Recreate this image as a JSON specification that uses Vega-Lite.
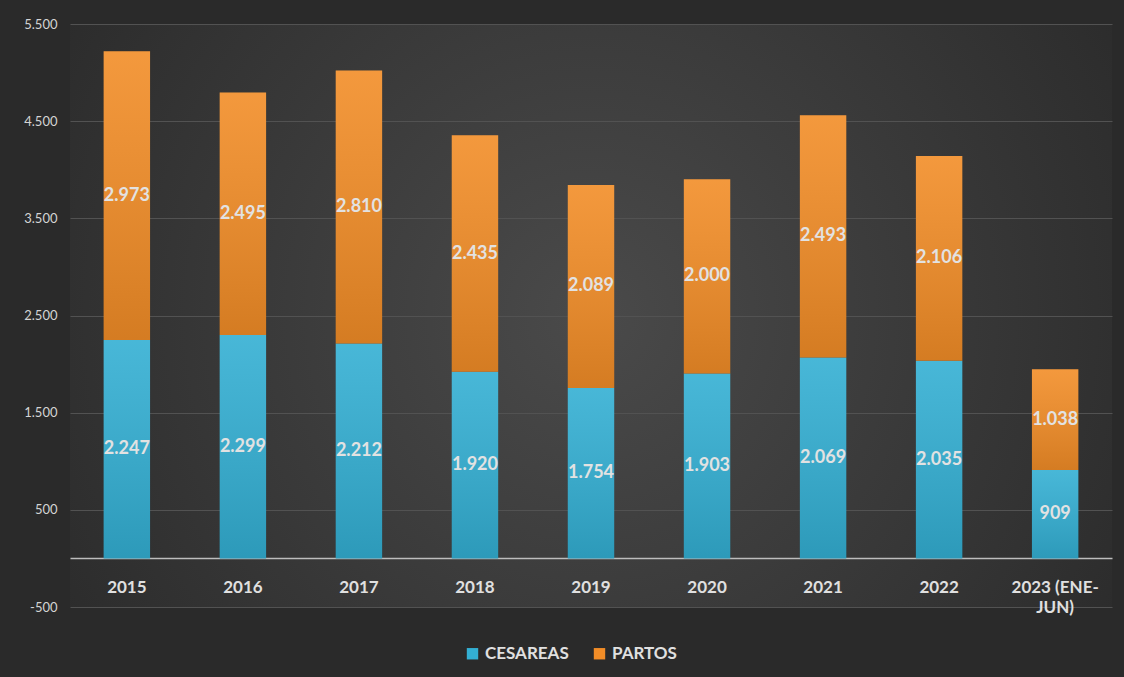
{
  "$schema": "https://vega.github.io/schema/vega-lite/v6.json",
  "width": 1042,
  "height": 583,
  "autosize": {"type": "none"},
  "padding": {"left": 70, "top": 24, "right": 12, "bottom": 70},
  "background": "#2a2a2a",
  "config": {
    "locale": {"number": {"decimal": ",", "thousands": ".", "grouping": [3], "currency": ["", ""], "minus": "-"}},
    "view": {"stroke": null, "fill": {"gradient": "radial", "x1": 0.5, "y1": 0.5, "r1": 0, "x2": 0.5, "y2": 0.5, "r2": 0.62, "stops": [{"offset": 0, "color": "#4a4a4a"}, {"offset": 1, "color": "#2a2a2a"}]}},
    "font": "Lato"
  },
  "data": {
    "values": [
      {"year": "2015", "serie": "CESAREAS", "value": 2247},
      {"year": "2015", "serie": "PARTOS", "value": 2973},
      {"year": "2016", "serie": "CESAREAS", "value": 2299},
      {"year": "2016", "serie": "PARTOS", "value": 2495},
      {"year": "2017", "serie": "CESAREAS", "value": 2212},
      {"year": "2017", "serie": "PARTOS", "value": 2810},
      {"year": "2018", "serie": "CESAREAS", "value": 1920},
      {"year": "2018", "serie": "PARTOS", "value": 2435},
      {"year": "2019", "serie": "CESAREAS", "value": 1754},
      {"year": "2019", "serie": "PARTOS", "value": 2089},
      {"year": "2020", "serie": "CESAREAS", "value": 1903},
      {"year": "2020", "serie": "PARTOS", "value": 2000},
      {"year": "2021", "serie": "CESAREAS", "value": 2069},
      {"year": "2021", "serie": "PARTOS", "value": 2493},
      {"year": "2022", "serie": "CESAREAS", "value": 2035},
      {"year": "2022", "serie": "PARTOS", "value": 2106},
      {"year": "2023 (ENE-JUN)", "serie": "CESAREAS", "value": 909},
      {"year": "2023 (ENE-JUN)", "serie": "PARTOS", "value": 1038}
    ]
  },
  "transform": [
    {"stack": "value", "groupby": ["year"], "sort": [{"field": "serie", "order": "ascending"}], "as": ["v0", "v1"]},
    {"calculate": "(datum.v0 + datum.v1) / 2", "as": "mid"}
  ],
  "encoding": {
    "x": {
      "field": "year",
      "type": "nominal",
      "sort": null,
      "scale": {"paddingInner": 0.6, "paddingOuter": 0.29},
      "axis": {
        "title": null,
        "orient": "bottom",
        "offset": -49,
        "domain": true,
        "domainColor": "#bdbdbd",
        "domainWidth": 1.5,
        "ticks": false,
        "tickSize": 0,
        "labelAngle": 0,
        "labelPadding": 21,
        "labelFontSize": 17,
        "labelFontWeight": "bold",
        "labelColor": "#e0e0e0",
        "labelLineHeight": 20,
        "labelExpr": "datum.label == '2023 (ENE-JUN)' ? ['2023 (ENE-', 'JUN)'] : datum.label"
      }
    }
  },
  "layer": [
    {
      "mark": {"type": "bar"},
      "encoding": {
        "y": {
          "field": "v0",
          "type": "quantitative",
          "scale": {"domain": [-500, 5500], "nice": false, "zero": false},
          "axis": {
            "title": null,
            "values": [-500, 500, 1500, 2500, 3500, 4500, 5500],
            "format": ",.0f",
            "domain": false,
            "ticks": false,
            "tickSize": 0,
            "labelPadding": 13,
            "labelFontSize": 13,
            "labelColor": "#d4d4d4",
            "grid": true,
            "gridColor": "#525252",
            "gridWidth": 1
          }
        },
        "y2": {"field": "v1"},
        "color": {
          "field": "serie",
          "type": "nominal",
          "scale": {"domain": ["CESAREAS", "PARTOS"], "range": ["#33afd3", "#f28d27"]},
          "legend": {
            "title": null,
            "orient": "none",
            "direction": "horizontal",
            "legendX": 394,
            "legendY": 621,
            "symbolType": "square",
            "symbolSize": 130,
            "symbolStrokeWidth": 0,
            "labelFontSize": 17,
            "labelFontWeight": "bold",
            "labelColor": "#e0e0e0",
            "columnPadding": 22,
            "labelOffset": 4
          }
        }
      }
    },
    {
      "mark": {
        "type": "bar",
        "fill": {"gradient": "linear", "x1": 0, "y1": 0, "x2": 0, "y2": 1, "stops": [{"offset": 0, "color": "rgba(255,255,255,0.10)"}, {"offset": 1, "color": "rgba(0,0,0,0.12)"}]}
      },
      "encoding": {
        "y": {"field": "v0", "type": "quantitative"},
        "y2": {"field": "v1"}
      }
    },
    {
      "mark": {"type": "text", "fontWeight": "bold", "fontSize": 18, "color": "#e2e2e2"},
      "encoding": {
        "y": {"field": "mid", "type": "quantitative"},
        "text": {"field": "value", "type": "quantitative", "format": ",.0f"}
      }
    }
  ]
}
